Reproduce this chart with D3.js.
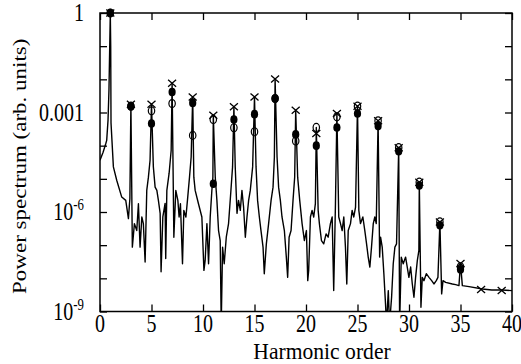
<!DOCTYPE html>
<html>
<head>
<meta charset="utf-8">
<script src="https://cdn.jsdelivr.net/npm/d3@7"></script>
<style>
  body { margin: 0; background: #fff; }
  svg { display: block; }
</style>
</head>
<body>
<div id="chart"></div>
<script>
// harmonic markers (log10 of power, null = not shown)
const harmonics = [1, 3, 5, 7, 9, 11, 13, 15, 17, 19, 21, 23, 25, 27, 29, 31, 33, 35, 37, 39];
const crossLog = [0, -2.75, -2.75, -2.12, -2.53, -3.08, -2.83, -2.53, -1.99, -2.93, -3.63, -3.03, -2.81, -3.25, -4.06, -5.1, -6.3, -7.55, -8.34, -8.37];
const openLog = [0, -2.81, -2.95, -2.73, -3.69, -3.21, -3.46, -3.58, -2.58, -3.86, -3.45, -3.13, -2.81, -3.25, -4.06, -5.1, -6.3, -7.65, null, null];
const filledLog = [0, -2.81, -3.33, -2.38, -2.71, -5.15, -3.21, -3.05, -2.58, -3.66, -4.0, -3.45, -3.03, -3.41, -4.17, -5.2, -6.4, -7.73, null, null];

// spectrum trace: harmonic order and log10 of power
const specH = [
  0, 0.3, 0.55, 0.65, 0.78, 0.87, 0.95, 1.0, 1.04, 1.07, 1.3, 1.63, 2.11, 2.5, 2.76, 2.9,
  3.0, 3.14, 3.34, 3.57, 3.73, 3.89, 4.06, 4.21, 4.38, 4.54, 4.7, 4.86,
  5.0, 5.18, 5.35, 5.52, 5.67, 5.84, 5.93, 6.1, 6.32, 6.38, 6.49, 6.71, 6.91,
  7.0, 7.17, 7.36, 7.56, 7.68, 7.81, 8.01, 8.14, 8.34, 8.49, 8.69, 8.85,
  9.0, 9.11, 9.24, 9.56, 9.89, 10.09, 10.21, 10.38, 10.54, 10.7, 10.86, 10.96,
  11.0, 11.19, 11.35, 11.51, 11.67, 11.77, 11.9, 12.06, 12.26, 12.48, 12.71, 12.87,
  13.0, 13.13, 13.3, 13.45, 13.62, 13.78, 13.94, 14.11, 14.27, 14.43, 14.59, 14.82,
  15.0, 15.15, 15.3, 15.47, 15.63, 15.83, 15.95, 16.15, 16.37, 16.61, 16.8, 16.93,
  17.0, 17.19, 17.34, 17.51, 17.67, 17.9, 18.09, 18.22, 18.36, 18.55, 18.74, 18.9,
  19.0, 19.19, 19.39, 19.62, 19.84, 20.04, 20.17, 20.26, 20.43, 20.59, 20.75, 20.91,
  21.0, 21.18, 21.3, 21.5, 21.72, 21.95, 22.15, 22.37, 22.54, 22.69, 22.86,
  23.0, 23.18, 23.35, 23.51, 23.67, 23.83, 23.96, 24.1, 24.32, 24.48, 24.64, 24.81,
  25.0, 25.13, 25.29, 25.52, 25.71, 25.88, 26.04, 26.2, 26.36, 26.53, 26.68, 26.82,
  27.0, 27.15, 27.24, 27.4, 27.56, 27.72, 27.82, 27.99, 28.11, 28.31, 28.47, 28.63, 28.79,
  29.0, 29.09, 29.25, 29.44, 29.67, 29.83, 29.99, 30.16, 30.32, 30.48, 30.64, 30.81, 30.96,
  31.0, 31.16, 31.29, 31.45, 31.68, 31.94, 32.2, 32.42, 32.65, 32.81,
  33.0, 33.17, 33.3, 33.56, 34.21, 34.53, 34.85,
  35.0, 35.18, 35.83, 37.13, 38.04, 39.02, 40.0
];
const specLog = [
  -4.44, -4.2, -3.95, -3.84, -3.23, -2.33, -0.9, 0, -1.0, -3.32, -4.64, -5.05, -5.55, -5.65, -6.2, -5.6,
  -2.75, -7.06, -6.35, -6.56, -5.75, -7.06, -6.15, -6.35, -7.51, -5.35, -4.95, -4.44,
  -2.75, -4.64, -5.25, -5.35, -5.65, -6.04, -7.8, -6.15, -5.74, -7.4, -5.35, -4.83, -4.14,
  -2.12, -6.76, -5.35, -5.65, -6.15, -5.75, -7.56, -5.95, -6.15, -5.65, -4.95, -4.34,
  -2.53, -4.95, -5.35, -5.75, -6.15, -7.76, -7.46, -6.35, -7.56, -6.15, -5.35, -4.95,
  -3.08, -4.95, -5.65, -6.56, -6.86, -9.4, -7.06, -7.56, -6.76, -6.35, -5.35, -4.64,
  -2.83, -4.64, -6.04, -5.65, -5.95, -5.35, -5.85, -6.76, -6.15, -5.65, -5.35, -4.64,
  -2.53, -4.64, -5.65, -6.15, -6.56, -7.06, -7.86, -6.96, -6.35, -5.65, -5.25, -4.34,
  -1.99, -4.34, -5.25, -5.65, -6.15, -6.56, -7.36, -7.97, -6.76, -6.56, -5.65, -4.95,
  -2.93, -4.95, -5.65, -6.35, -6.86, -6.56, -8.07, -7.76, -6.15, -5.95, -6.15, -5.75,
  -3.45, -5.95, -6.35, -6.86, -6.96, -6.66, -6.76, -6.35, -6.15, -8.37, -5.75,
  -3.03, -6.15, -6.35, -6.56, -6.15, -7.06, -8.17, -6.56, -6.35, -5.95, -6.15, -5.85,
  -2.81, -5.95, -6.35, -6.15, -6.56, -6.96, -7.36, -7.66, -7.06, -6.35, -6.15, -6.35,
  -3.25, -7.36, -6.76, -7.06, -7.86, -8.77, -9.4, -8.37, -9.4, -8.57, -7.56, -7.06, -6.96,
  -4.06, -9.4, -7.36, -7.56, -7.36, -7.66, -7.97, -7.66, -8.17, -8.57, -7.97, -7.46, -7.16,
  -5.1, -8.87, -7.97, -8.07, -7.86, -7.97, -8.07, -8.17, -8.07, -7.97,
  -6.3, -8.47, -8.07, -8.12, -8.17, -8.19, -8.22,
  -7.55, -8.22, -8.25, -8.32, -8.35, -8.35, -8.37
];

const xTicks = [0, 5, 10, 15, 20, 25, 30, 35, 40];
const yDecades = [1, 1e-1, 1e-2, 1e-3, 1e-4, 1e-5, 1e-6, 1e-7, 1e-8, 1e-9];
const yLabelVals = [1, 1e-3, 1e-6, 1e-9];
const yLabelBase = ['1', '0.001', '10', '10'];
const yLabelExp = ['', '', '-6', '-9'];

const width = 521;
const height = 364;
const margin = { top: 13, right: 9, bottom: 52.5, left: 100 };
const plotW = width - margin.left - margin.right;
const plotH = height - margin.top - margin.bottom;
const squash = 0.8;
const font = '"Liberation Serif", "Times New Roman", serif';

const svg = d3.select('#chart')
  .append('svg')
  .attr('width', width)
  .attr('height', height);

const x = d3.scaleLinear().domain([0, 40]).range([margin.left, margin.left + plotW]);
const y = d3.scaleLog().domain([1e-9, 1]).range([margin.top + plotH, margin.top]);

svg.append('clipPath')
  .attr('id', 'plot-clip')
  .append('rect')
  .attr('x', margin.left)
  .attr('y', margin.top)
  .attr('width', plotW)
  .attr('height', plotH);

// spectrum
const spec = specH.map((h, i) => ({ h: h, p: Math.pow(10, specLog[i]) }));
const line = d3.line()
  .x((d) => x(d.h))
  .y((d) => y(d.p));

svg.append('path')
  .datum(spec)
  .attr('clip-path', 'url(#plot-clip)')
  .attr('fill', 'none')
  .attr('stroke', '#000')
  .attr('stroke-width', 1.4)
  .attr('stroke-linejoin', 'round')
  .attr('d', line);

// markers
const toPoints = (vals) => harmonics
  .map((h, i) => ({ h: h, v: vals[i] }))
  .filter((d) => d.v !== null)
  .map((d) => ({ h: d.h, p: Math.pow(10, d.v) }));

svg.append('g')
  .selectAll('path')
  .data(toPoints(crossLog))
  .join('path')
  .attr('fill', 'none')
  .attr('stroke', '#000')
  .attr('stroke-width', 1.3)
  .attr('d', (d) => {
    const cx = x(d.h);
    const cy = y(d.p);
    return `M${cx - 4},${cy - 3.5}L${cx + 4},${cy + 3.5}M${cx - 4},${cy + 3.5}L${cx + 4},${cy - 3.5}`;
  });

svg.append('g')
  .selectAll('ellipse')
  .data(toPoints(openLog))
  .join('ellipse')
  .attr('cx', (d) => x(d.h))
  .attr('cy', (d) => y(d.p))
  .attr('rx', 3.2)
  .attr('ry', 4)
  .attr('fill', 'none')
  .attr('stroke', '#000')
  .attr('stroke-width', 1.2);

svg.append('g')
  .selectAll('ellipse')
  .data(toPoints(filledLog))
  .join('ellipse')
  .attr('cx', (d) => x(d.h))
  .attr('cy', (d) => y(d.p))
  .attr('rx', 3.6)
  .attr('ry', 4.3)
  .attr('fill', '#000');

// axes with inward ticks on all four sides
const tick = 7;
const styleAxis = (g) => {
  g.select('.domain').remove();
  g.selectAll('line').attr('stroke', '#000').attr('stroke-width', 1.3);
  g.selectAll('text').remove();
};

svg.append('g')
  .attr('transform', `translate(0, ${margin.top + plotH})`)
  .call(d3.axisBottom(x).tickValues(xTicks).tickSizeInner(-tick).tickSizeOuter(0))
  .call(styleAxis);
svg.append('g')
  .attr('transform', `translate(0, ${margin.top})`)
  .call(d3.axisTop(x).tickValues(xTicks).tickSizeInner(-tick).tickSizeOuter(0))
  .call(styleAxis);
svg.append('g')
  .attr('transform', `translate(${margin.left}, 0)`)
  .call(d3.axisLeft(y).tickValues(yDecades).tickSizeInner(-tick).tickSizeOuter(0))
  .call(styleAxis);
svg.append('g')
  .attr('transform', `translate(${margin.left + plotW}, 0)`)
  .call(d3.axisRight(y).tickValues(yDecades).tickSizeInner(-tick).tickSizeOuter(0))
  .call(styleAxis);

svg.append('rect')
  .attr('x', margin.left)
  .attr('y', margin.top)
  .attr('width', plotW)
  .attr('height', plotH)
  .attr('fill', 'none')
  .attr('stroke', '#000')
  .attr('stroke-width', 1.5);

// tick labels
svg.append('g')
  .selectAll('text')
  .data(xTicks)
  .join('text')
  .attr('transform', (d) => `translate(${x(d)}, ${margin.top + plotH + 20}) scale(${squash}, 1)`)
  .attr('text-anchor', 'middle')
  .attr('font-family', font)
  .attr('font-size', 25)
  .text((d) => d);

const yLab = svg.append('g')
  .selectAll('text')
  .data(yLabelVals)
  .join('text')
  .attr('transform', (d) => `translate(${margin.left - 16}, ${y(d) + 8}) scale(${squash}, 1)`)
  .attr('text-anchor', 'end')
  .attr('font-family', font)
  .attr('font-size', 25);

yLab.append('tspan').text((d, i) => yLabelBase[i]);
yLab.append('tspan')
  .attr('dy', -10)
  .attr('font-size', 16)
  .text((d, i) => yLabelExp[i]);

// axis titles
svg.append('text')
  .attr('transform', `translate(${(margin.left + margin.left + plotW) / 2 + 16}, ${height - 5}) scale(0.9, 1)`)
  .attr('text-anchor', 'middle')
  .attr('font-family', font)
  .attr('font-size', 24)
  .text('Harmonic order');

svg.append('text')
  .attr('transform', `translate(26, ${margin.top + plotH / 2 + 4}) scale(0.86, 1) rotate(-90)`)
  .attr('text-anchor', 'middle')
  .attr('font-family', font)
  .attr('font-size', 23)
  .text('Power spectrum (arb. units)');
</script>
</body>
</html>
